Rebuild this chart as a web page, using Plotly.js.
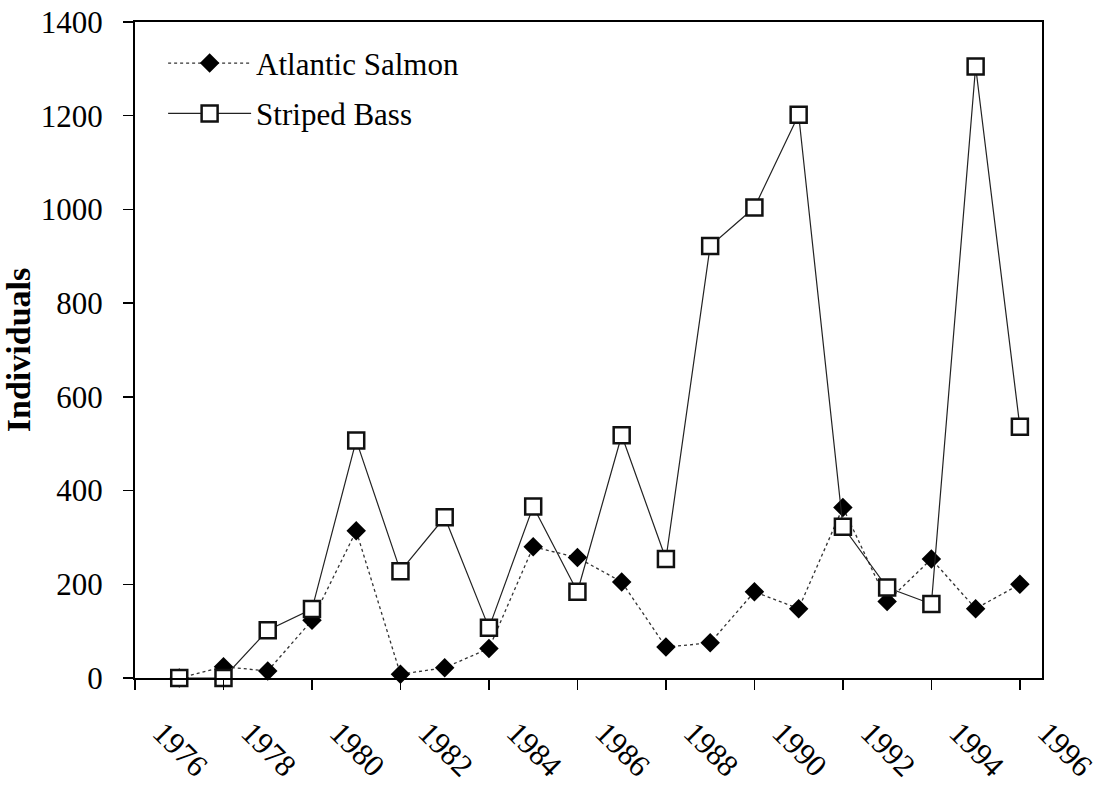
<!DOCTYPE html>
<html>
<head>
<meta charset="utf-8">
<script src="https://cdn.plot.ly/plotly-3.0.1.min.js"></script>
<style>html,body{margin:0;padding:0;background:#fff}</style>
</head>
<body>
<div id="chart" style="width:1111px;height:788px"></div>
<script>
const years = [1976,1977,1978,1979,1980,1981,1982,1983,1984,1985,1986,1987,1988,1989,1990,1991,1992,1993,1994,1995];
const atlanticSalmon = [0,24,15,123,314,8,22,63,280,257,205,66,75,184,148,364,163,254,148,200];
const stripedBass = [0,0,102,147,507,228,343,107,366,184,518,254,922,1004,1202,323,193,158,1305,536];
const tickPositions = [1975,1977,1979,1981,1983,1985,1987,1989,1991,1993,1995];
const tickLabels = ['1976','1978','1980','1982','1984','1986','1988','1990','1992','1994','1996'];
const yTicks = [0,200,400,600,800,1000,1200,1400];

const FONT = 'Liberation Serif, Times New Roman, serif';

const traces = [
  {
    x: years, y: atlanticSalmon, name: 'Atlantic Salmon', type: 'scatter', mode: 'lines+markers',
    legendgroup: 'a', cliponaxis: false,
    line: {color: '#333', width: 1.3, dash: 'dot'},
    marker: {symbol: 'diamond', size: 15, color: '#000', line: {width: 0}}
  },
  {
    x: years, y: stripedBass, name: 'Striped Bass', type: 'scatter', mode: 'lines+markers',
    legendgroup: 'b', cliponaxis: false,
    line: {color: '#222', width: 1.2},
    marker: {symbol: 'square', size: 16, color: '#fff', line: {color: '#111', width: 2.5}}
  }
];

const layout = {
  width: 1111, height: 788,
  margin: {l: 135, r: 69, t: 22, b: 110},
  paper_bgcolor: '#fff', plot_bgcolor: '#fff',
  font: {family: FONT, color: '#000', size: 31},
  showlegend: true,
  legend: {
    x: 0.031, y: 0.978, xanchor: 'left', yanchor: 'top',
    bgcolor: 'rgba(0,0,0,0)', borderwidth: 0,
    font: {family: FONT, size: 31, color: '#000'},
    traceorder: 'grouped', tracegroupgap: 7, itemwidth: 83
  },
  xaxis: {
    range: [1975, 1995.5], tickmode: 'array', tickvals: tickPositions, ticktext: tickLabels,
    tickangle: 45, ticks: 'outside', ticklen: 10, tickwidth: 1.5, tickcolor: '#000',
    showline: true, linecolor: '#000', linewidth: 2, mirror: true,
    showgrid: false, zeroline: false,
    ticklabelshift: 27, ticklabelstandoff: 12,
    tickfont: {family: FONT, size: 31, color: '#000'}
  },
  yaxis: {
    range: [0, 1400], tickmode: 'array', tickvals: yTicks,
    ticks: 'outside', ticklen: 10, tickwidth: 1.5, tickcolor: '#000',
    showline: true, linecolor: '#000', linewidth: 2, mirror: true,
    showgrid: false, zeroline: false,
    tickfont: {family: FONT, size: 31, color: '#000'},
    ticklabelstandoff: 14,
    title: {text: 'Individuals', standoff: 12, font: {family: FONT, size: 34, color: '#000', weight: 'bold'}}
  }
};

Plotly.newPlot('chart', traces, layout, {displayModeBar: false, staticPlot: true});
</script>
</body>
</html>
